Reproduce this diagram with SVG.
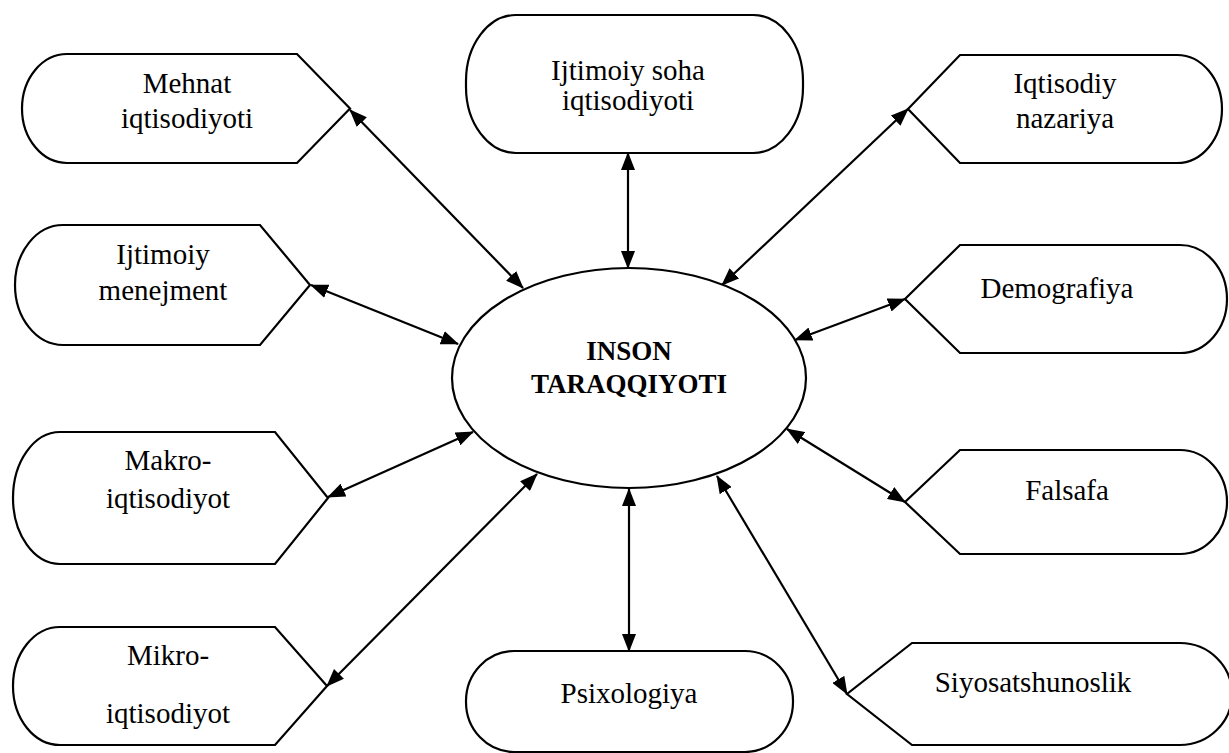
<svg xmlns="http://www.w3.org/2000/svg" width="1229" height="753" viewBox="0 0 1229 753">
<style>
.n{fill:#fff;stroke:#000;stroke-width:2.2}
.t{font-family:"Liberation Serif","Times New Roman",serif;font-size:29px;fill:#000;text-anchor:middle}
.b{font-weight:bold;font-size:27px}
.c{stroke:#000;stroke-width:2.2;fill:none;marker-start:url(#ah);marker-end:url(#ah)}
</style>
<defs>
<marker id="ah" markerUnits="userSpaceOnUse" markerWidth="18" markerHeight="14" viewBox="0 0 18 14" refX="17" refY="7" orient="auto-start-reverse">
<path d="M0,0 L18,7 L0,14 Z" fill="#000"/>
</marker>
</defs>
<rect width="1229" height="753" fill="#fff"/>
<g id="connectors">
<line class="c" x1="350" y1="110" x2="523" y2="288"/>
<line class="c" x1="311" y1="285" x2="458" y2="344"/>
<line class="c" x1="328" y1="497" x2="473" y2="432"/>
<line class="c" x1="327" y1="686" x2="537" y2="474"/>
<line class="c" x1="628" y1="153" x2="628" y2="268"/>
<line class="c" x1="908" y1="109" x2="722" y2="285"/>
<line class="c" x1="905" y1="299" x2="795" y2="340"/>
<line class="c" x1="905" y1="502" x2="787" y2="429"/>
<line class="c" x1="847" y1="694" x2="717" y2="476"/>
<line class="c" x1="629" y1="651" x2="629" y2="489"/>
</g>
<g id="center">
<ellipse class="n" cx="629" cy="378" rx="177" ry="110"/>
<text class="t b" x="629" y="360">INSON</text>
<text class="t b" x="629" y="393">TARAQQIYOTI</text>
</g>
<g id="mehnat">
<path class="n" d="M67,54 L297,54 L350,108.5 L297,163 L67,163 A45,54.5 0 0 1 67,54 Z"/>
<text class="t" x="187" y="93">Mehnat</text>
<text class="t" x="187" y="128">iqtisodiyoti</text>
</g>
<g id="menejment">
<path class="n" d="M63,225 L260,225 L310,285 L260,345 L63,345 A48,60 0 0 1 63,225 Z"/>
<text class="t" x="163" y="264">Ijtimoiy</text>
<text class="t" x="163" y="300">menejment</text>
</g>
<g id="makro">
<path class="n" d="M60,432 L275,432 L328,498 L275,564 L60,564 A47,66 0 0 1 60,432 Z"/>
<text class="t" x="168" y="470">Makro-</text>
<text class="t" x="168" y="508">iqtisodiyot</text>
</g>
<g id="mikro">
<path class="n" d="M60,627 L275,627 L327,686 L275,745 L60,745 A47,59 0 0 1 60,627 Z"/>
<text class="t" x="168" y="665">Mikro-</text>
<text class="t" x="168" y="723">iqtisodiyot</text>
</g>
<g id="ijtimoiy-soha">
<rect class="n" x="466" y="15" width="337" height="138" rx="50" ry="66"/>
<text class="t" x="628" y="80">Ijtimoiy soha</text>
<text class="t" x="628" y="110">iqtisodiyoti</text>
</g>
<g id="iqtisodiy">
<path class="n" d="M960,55 L1177,55 A45,54 0 0 1 1177,163 L960,163 L908,109 Z"/>
<text class="t" x="1065" y="93">Iqtisodiy</text>
<text class="t" x="1065" y="128">nazariya</text>
</g>
<g id="demografiya">
<path class="n" d="M960,245 L1180,245 A47,54 0 0 1 1180,353 L960,353 L905,299 Z"/>
<text class="t" x="1057" y="298">Demografiya</text>
</g>
<g id="falsafa">
<path class="n" d="M960,450 L1180,450 A47,52 0 0 1 1180,554 L960,554 L905,502 Z"/>
<text class="t" x="1067" y="500">Falsafa</text>
</g>
<g id="siyosat">
<path class="n" d="M912,643 L1180,643 A52,51 0 0 1 1180,745 L912,745 L847,694 Z"/>
<text class="t" x="1033" y="692">Siyosatshunoslik</text>
</g>
<g id="psixologiya">
<rect class="n" x="466" y="651" width="327" height="101" rx="48" ry="50"/>
<text class="t" x="629" y="703">Psixologiya</text>
</g>
</svg>
